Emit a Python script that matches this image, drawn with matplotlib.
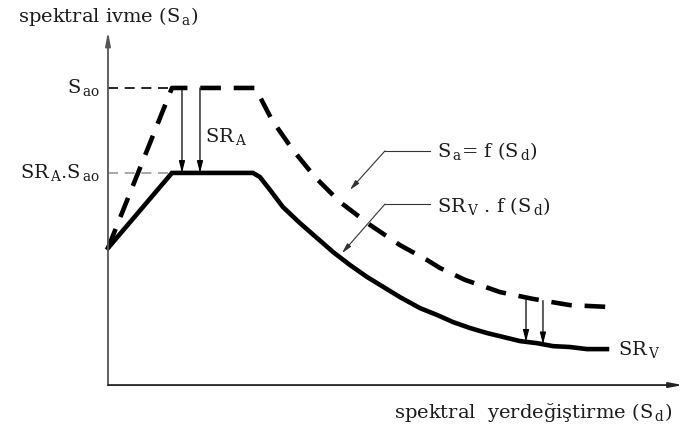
import numpy as np
import matplotlib
matplotlib.use('Agg')
import matplotlib.pyplot as plt

plt.rcParams['font.family'] = ['DejaVu Serif']
plt.rcParams['mathtext.fontset'] = 'dejavuserif'

# elastic spectrum Sa = f(Sd)
sd_el = [0.0, 1.113, 2.557, 2.643, 2.852, 3.217, 3.600, 4.035, 4.557, 5.078,
         5.548, 5.774, 6.209, 6.817, 7.391, 8.035, 8.696]
sa_el = [0.461, 1.0, 1.0, 0.970, 0.892, 0.791, 0.700, 0.616, 0.539, 0.471,
         0.421, 0.394, 0.354, 0.313, 0.290, 0.269, 0.263]

# reduced spectrum SRv . f(Sd)
sd_red = [0.0, 1.113, 2.522, 2.643, 2.817, 3.043, 3.339, 3.635, 3.913, 4.209,
          4.504, 5.078, 5.426, 5.722, 6.000, 6.296, 6.591, 6.870, 7.165, 7.461,
          7.739, 8.035, 8.330, 8.678]
sa_red = [0.461, 0.714, 0.714, 0.700, 0.657, 0.599, 0.545, 0.495, 0.448, 0.404,
          0.364, 0.296, 0.259, 0.236, 0.212, 0.192, 0.175, 0.162, 0.148, 0.141,
          0.131, 0.128, 0.121, 0.121]

Sao = 1.0
SRA_Sao = 0.714
sra_arrow_x = [1.287, 1.60]
srv_arrow_x = [7.27, 7.565]

fig = plt.figure(figsize=(6.87, 4.32), dpi=100)
ax = fig.add_axes([0, 0, 1, 1])
ax.set_xlim(-1.878, 10.07)
ax.set_ylim(-0.158, 1.296)
ax.axis('off')

# axes with arrows
ax.annotate('', xy=(0, 1.19), xytext=(0, 0),
            arrowprops=dict(arrowstyle='-|>,head_width=0.15,head_length=0.8',
                            color='#555555', lw=1.3, shrinkA=0, shrinkB=0))
ax.annotate('', xy=(10.0, 0), xytext=(0, 0),
            arrowprops=dict(arrowstyle='-|>,head_width=0.15,head_length=0.8',
                            color='#222222', lw=1.3, shrinkA=0, shrinkB=0))

# reference levels
ax.plot([0, sd_el[1]], [Sao, Sao], color='black', lw=1.2, ls=(0, (6, 4)))
ax.plot([0, sd_red[1]], [SRA_Sao, SRA_Sao], color='#999999', lw=1.2, ls=(0, (6, 4)))

# curves
ax.plot(sd_el, sa_el, color='black', lw=3.3, ls=(0, (4.5, 2.8)),
        solid_joinstyle='miter')
ax.plot(sd_red, sa_red, color='black', lw=3.3, solid_joinstyle='miter')

aprops = dict(arrowstyle='-|>,head_width=0.18,head_length=0.7',
              color='black', lw=0.9, shrinkA=0, shrinkB=0)
for xa in sra_arrow_x:
    ax.annotate('', xy=(xa, SRA_Sao), xytext=(xa, Sao), arrowprops=aprops)
for xa in srv_arrow_x:
    ya = np.interp(xa, sd_el, sa_el)
    yb = np.interp(xa, sd_red, sa_red)
    ax.annotate('', xy=(xa, yb), xytext=(xa, ya), arrowprops=aprops)

# leader lines
lprops = dict(arrowstyle='-|>,head_width=0.15,head_length=0.6',
              color='#333333', lw=0.8, shrinkA=0, shrinkB=0)
ax.plot([5.6, 4.817], [0.788, 0.788], color='#333333', lw=0.8)
ax.annotate('', xy=(4.209, 0.657), xytext=(4.817, 0.788), arrowprops=lprops)
ax.plot([5.6, 4.817], [0.609, 0.609], color='#333333', lw=0.8)
ax.annotate('', xy=(4.070, 0.444), xytext=(4.817, 0.609), arrowprops=lprops)

fs = 14
tc = '#1a1a1a'
ax.text(5.72, 0.788, r'S$_{\,\mathrm{a}}$= f (S$_{\,\mathrm{d}}$)', fontsize=fs,
        color=tc, va='center', ha='left')
ax.text(5.72, 0.603, r'SR$_{\,\mathrm{V}}$ . f (S$_{\,\mathrm{d}}$)', fontsize=fs,
        color=tc, va='center', ha='left')
ax.text(8.87, 0.118, r'SR$_{\,\mathrm{V}}$', fontsize=fs, color=tc,
        va='center', ha='left')
ax.text(1.687, 0.835, r'SR$_{\,\mathrm{A}}$', fontsize=fs, color=tc,
        va='center', ha='left')
ax.text(-0.139, Sao, r'S$_{\,\mathrm{ao}}$', fontsize=fs, color=tc,
        va='center', ha='right')
ax.text(-0.139, SRA_Sao, r'SR$_{\,\mathrm{A}}$.S$_{\,\mathrm{ao}}$', fontsize=fs,
        color=tc, va='center', ha='right')
ax.text(-1.565, 1.239, r'spektral ivme (S$_{\,\mathrm{a}}$)', fontsize=fs,
        color=tc, va='center', ha='left')
ax.text(9.81, -0.091, r'spektral  yerdeğiştirme (S$_{\,\mathrm{d}}$)', fontsize=fs,
        color=tc, va='center', ha='right')

fig.savefig('out.png', dpi=100)
